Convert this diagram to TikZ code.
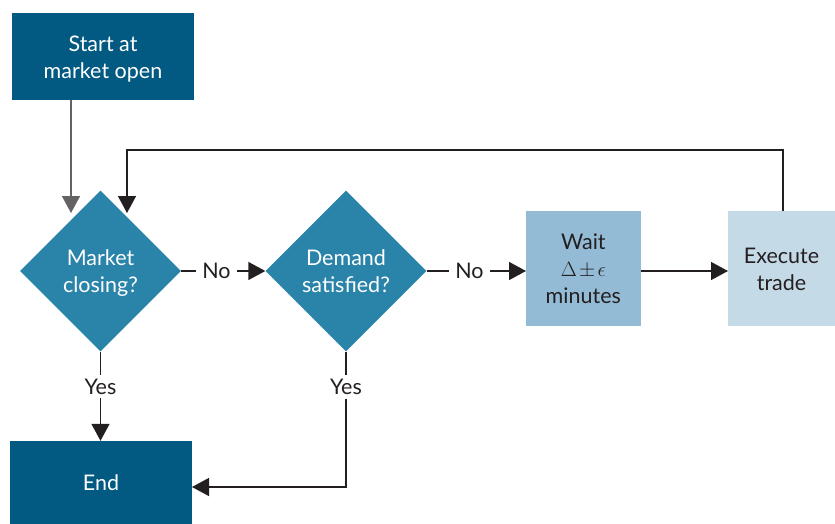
\documentclass[tikz,border=0pt]{standalone}
\usepackage{fontspec}
\setmainfont{Lato}
\usetikzlibrary{shapes.geometric,arrows.meta,calc}
\definecolor{darkb}{HTML}{025A82}
\definecolor{midb}{HTML}{2A84AA}
\definecolor{lightb}{HTML}{93BBD5}
\definecolor{paleb}{HTML}{C5DAE7}
\definecolor{ink}{HTML}{231F20}
\newcommand\lowtxt[1]{\raisebox{-3pt}[\height][\depth]{\begin{tabular}{@{}c@{}}#1\end{tabular}}}
\begin{document}
\begin{tikzpicture}[x=1pt,y=-1pt,
  every node/.style={font=\fontsize{21.5}{27}\selectfont, align=center},
  termbox/.style={rectangle, fill=darkb, text=white, inner sep=0pt},
  decbox/.style={diamond, fill=midb, text=white, inner sep=0pt, minimum width=161pt, minimum height=161pt},
  procbox/.style={rectangle, inner sep=0pt, text=ink, minimum height=115pt},
  conn/.style={draw=ink, line width=1.4pt},
  arr/.style={conn, -{Triangle[length=17pt,width=18pt]}},
  lbl/.style={fill=white, text=ink, inner xsep=6pt, inner ysep=4pt}]
\useasboundingbox (0,0) rectangle (835,524);
\node[termbox, minimum width=182pt, minimum height=87pt] (start) at (103,56.5) {\lowtxt{Start at\\market open}};
\node[decbox] (d1) at (100.5,271) {\lowtxt{Market\\closing?}};
\node[decbox] (d2) at (346,271) {\lowtxt{Demand\\satisfied?}};
\node[procbox, fill=lightb, minimum width=115pt] (wait) at (583.3,268.5) {\lowtxt{Wait\\$\Delta\mskip2mu{\pm}\mskip2mu\epsilon$\\minutes}};
\node[procbox, fill=paleb, minimum width=107pt] (exec) at (781.5,268.5) {\lowtxt{Execute\\trade}};
\node[termbox, minimum width=182pt, minimum height=83pt] (end) at (101,482.5) {\lowtxt{End}};
\coordinate (in1) at (71,213);
\coordinate (in2) at (127,213);
\coordinate (top) at (127,150);
\coordinate (up) at (783,211);
\coordinate (endin) at (192,487);
\coordinate (w) at (526,271);
\coordinate (e) at (728,271);
\coordinate (wo) at (640.7,271);
\draw[arr, draw=ink!70] (start.south -| in1) -- (in1);
\draw[arr] (up) |- (top) -- (in2);
\draw[arr] (d1.east) -- node[lbl, pos=0.42] {No} (d2.west);
\draw[arr] (d2.east) -- node[lbl, pos=0.43] {No} (w);
\draw[arr] (wo) -- (e);
\draw[arr] (d1.south) -- node[lbl, pos=0.39] {Yes} (d1.south |- end.north);
\draw[arr] (d2.south) |- node[lbl, pos=0.13] {Yes} (endin);
\end{tikzpicture}
\end{document}
